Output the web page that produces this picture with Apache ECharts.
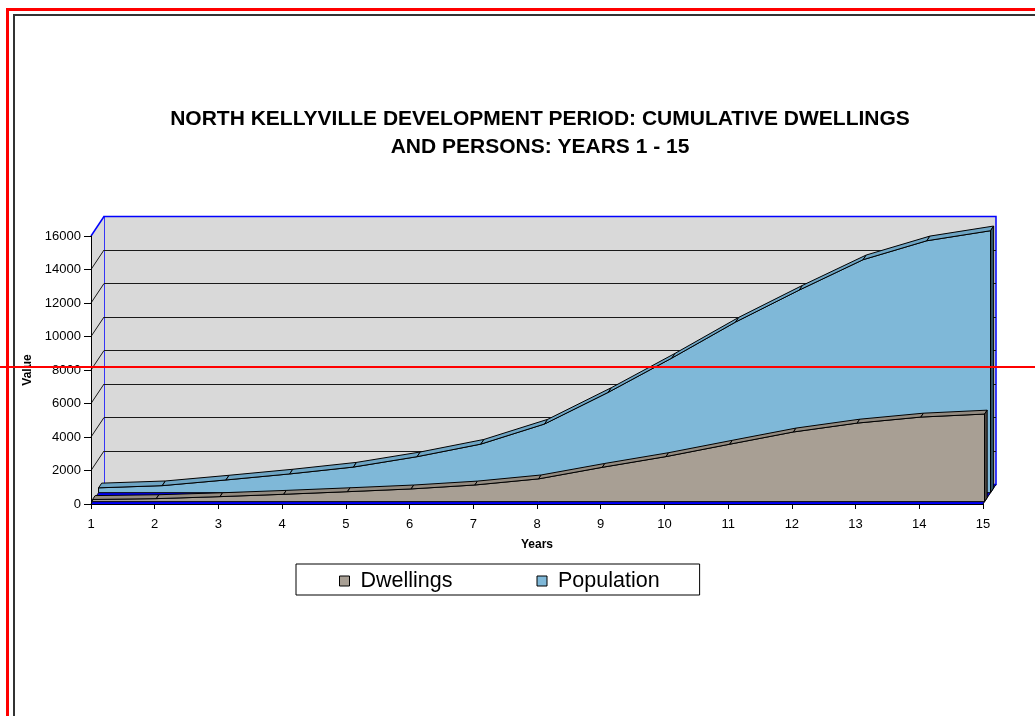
<!DOCTYPE html>
<html>
<head>
<meta charset="utf-8">
<title>North Kellyville Development Period</title>
<script src="https://cdn.jsdelivr.net/npm/echarts@6/dist/echarts.min.js"></script>
<style>
  html, body { margin: 0; padding: 0; background: #ffffff; }
  #chart { width: 1035px; height: 716px; }
</style>
</head>
<body>
<div id="chart"></div>
<script>
// Years along the category axis
const years = ['1', '2', '3', '4', '5', '6', '7', '8', '9', '10', '11', '12', '13', '14', '15'];
// Cumulative dwellings by year
const dwellings = [130, 180, 300, 440, 595, 760, 995, 1360, 2050, 2690, 3430, 4160, 4690, 5050, 5230];
// Cumulative persons by year
const population = [290, 420, 760, 1120, 1530, 2150, 2900, 4100, 5990, 8040, 10190, 12100, 13910, 15040, 15640];
// Value axis ticks
const valueTicks = [0, 2000, 4000, 6000, 8000, 10000, 12000, 14000, 16000];

const Y_MAX = 16000;
// Oblique depth vector (pixels) from the front plane to the back wall
const DEPTH = [13, -19.5];
const FONT = "'Liberation Sans', Arial, sans-serif";

function shift(p, f) {
  return [p[0] + DEPTH[0] * f, p[1] + DEPTH[1] * f];
}

// 3D area: front face, top ribbon segments and the visible right side
function areaRenderer(f0, f1, faceColor, topColor, sideColor) {
  return function (params, api) {
    const i = params.dataIndex;
    const n = params.dataInsideLength;
    const children = [];
    if (i === 0) {
      const pts = [];
      for (let k = 0; k < n; k++) pts.push(shift(api.coord([k, api.value(1, k)]), f0));
      pts.push(shift(api.coord([n - 1, 0]), f0));
      pts.push(shift(api.coord([0, 0]), f0));
      children.push({
        type: 'polygon', shape: { points: pts },
        style: { fill: faceColor, stroke: '#000', lineWidth: 1 }
      });
    }
    const a = api.coord([i, api.value(1, i)]);
    if (i < n - 1) {
      const b = api.coord([i + 1, api.value(1, i + 1)]);
      children.push({
        type: 'polygon',
        shape: { points: [shift(a, f0), shift(b, f0), shift(b, f1), shift(a, f1)] },
        style: { fill: topColor, stroke: '#000', lineWidth: 1, lineJoin: 'round' }
      });
    } else {
      const z = api.coord([i, 0]);
      children.push({
        type: 'polygon',
        shape: { points: [shift(a, f0), shift(a, f1), shift(z, f1), shift(z, f0)] },
        style: { fill: sideColor, stroke: '#000', lineWidth: 1 }
      });
    }
    return { type: 'group', children: children };
  };
}

// Left side wall and blue floor
function frameRenderer(params, api) {
  const n = years.length;
  const fl = api.coord([0, 0]);
  const fr = api.coord([n - 1, 0]);
  const tl = api.coord([0, Y_MAX]);
  return {
    type: 'group',
    children: [
      {
        type: 'polygon',
        shape: { points: [fl, tl, shift(tl, 1), shift(fl, 1)] },
        style: { fill: '#d9d9d9' }
      },
      {
        type: 'polygon',
        shape: { points: [fl, fr, shift(fr, 1), shift(fl, 1)] },
        style: { fill: '#0000ff' }
      },
      {
        type: 'line',
        shape: { x1: fr[0], y1: fr[1], x2: fr[0] + DEPTH[0], y2: fr[1] + DEPTH[1] },
        style: { stroke: '#000', lineWidth: 1 }
      }
    ]
  };
}

// Gridline returns on the left wall, one per value tick
function wallLineRenderer(params, api) {
  const v = api.value(0);
  const p = api.coord([0, v]);
  return {
    type: 'line',
    shape: { x1: p[0], y1: p[1], x2: p[0] + DEPTH[0], y2: p[1] + DEPTH[1] },
    style: { stroke: v === Y_MAX ? '#0000ff' : '#1a1a1a', lineWidth: v === Y_MAX ? 1.5 : 1 }
  };
}

const chart = echarts.init(document.getElementById('chart'), null, { renderer: 'canvas' });

chart.setOption({
  animation: false,
  backgroundColor: '#ffffff',
  title: {
    text: 'NORTH KELLYVILLE DEVELOPMENT PERIOD: CUMULATIVE DWELLINGS\nAND PERSONS: YEARS 1 - 15',
    left: 535,
    top: 100,
    textAlign: 'center',
    textStyle: { fontFamily: FONT, fontSize: 21, fontWeight: 'bold', color: '#000', lineHeight: 28 }
  },
  legend: {
    data: ['Dwellings', 'Population'],
    left: 296,
    top: 564,
    orient: 'horizontal',
    padding: [6, 40, 3, 43],
    itemGap: 84,
    itemWidth: 10,
    itemHeight: 10,
    icon: 'rect',
    borderColor: '#000',
    borderWidth: 1,
    backgroundColor: '#fff',
    itemStyle: { borderColor: '#000', borderWidth: 1 },
    textStyle: { fontFamily: FONT, fontSize: 21.5, color: '#000', padding: [0, 0, 0, 6] }
  },
  grid: [
    { left: 91, top: 236, width: 892, height: 268, containLabel: false },
    {
      left: 104, top: 216.5, width: 892, height: 268, containLabel: false,
      show: true, backgroundColor: '#d9d9d9', borderColor: '#0000ff', borderWidth: 1.5
    }
  ],
  xAxis: [
    {
      type: 'category', gridIndex: 0, data: years, boundaryGap: false, z: 5,
      name: 'Years', nameLocation: 'middle', nameGap: 35,
      nameTextStyle: { fontFamily: FONT, fontSize: 12, fontWeight: 'bold', color: '#000' },
      axisLine: { lineStyle: { color: '#000', width: 1 } },
      axisTick: { show: true, length: 5, alignWithLabel: true, lineStyle: { color: '#000' } },
      axisLabel: { fontFamily: FONT, fontSize: 13, color: '#000', margin: 14, interval: 0 },
      splitLine: { show: false }
    },
    {
      type: 'category', gridIndex: 1, data: years, boundaryGap: false, show: false
    }
  ],
  yAxis: [
    {
      type: 'value', gridIndex: 0, min: 0, max: Y_MAX, interval: 2000, z: 5,
      name: 'Value', nameLocation: 'middle', nameRotate: 90, nameGap: 56,
      nameTextStyle: { fontFamily: FONT, fontSize: 12, fontWeight: 'bold', color: '#000' },
      axisLine: { show: true, lineStyle: { color: '#000', width: 1 } },
      axisTick: { show: true, length: 7, lineStyle: { color: '#000' } },
      axisLabel: { fontFamily: FONT, fontSize: 13, color: '#000', margin: 10, formatter: v => String(v) },
      splitLine: { show: false }
    },
    {
      type: 'value', gridIndex: 1, min: 0, max: Y_MAX, interval: 2000,
      axisLine: { show: false }, axisTick: { show: false }, axisLabel: { show: false },
      splitLine: { show: true, showMinLine: false, showMaxLine: false, lineStyle: { color: '#1a1a1a', width: 1 } }
    }
  ],
  series: [
    {
      type: 'custom', name: 'frame', xAxisIndex: 0, yAxisIndex: 0, clip: false, silent: true, z: 1,
      data: [[0]], renderItem: frameRenderer
    },
    {
      type: 'custom', name: 'wallLines', xAxisIndex: 0, yAxisIndex: 0, clip: false, silent: true, z: 1,
      data: valueTicks.map(v => [v]), renderItem: wallLineRenderer
    },
    {
      type: 'custom', name: 'Population', xAxisIndex: 0, yAxisIndex: 0, clip: false, z: 2,
      itemStyle: { color: '#7fb8d8' },
      encode: { x: 0, y: 1 },
      data: population.map((v, i) => [i, v]),
      renderItem: areaRenderer(0.58, 0.82, '#7fb8d8', '#6ea5c4', '#34566a')
    },
    {
      type: 'custom', name: 'Dwellings', xAxisIndex: 0, yAxisIndex: 0, clip: false, z: 3,
      itemStyle: { color: '#a89f94' },
      encode: { x: 0, y: 1 },
      data: dwellings.map((v, i) => [i, v]),
      renderItem: areaRenderer(0.12, 0.32, '#a89f94', '#938b81', '#4f4a45')
    }
  ],
  graphic: [
    // dark inner page frame
    { type: 'line', z: 100, shape: { x1: 14, y1: 15, x2: 14, y2: 716 }, style: { stroke: '#333', lineWidth: 2 } },
    { type: 'line', z: 100, shape: { x1: 13, y1: 15, x2: 1035, y2: 15 }, style: { stroke: '#333', lineWidth: 2 } },
    // red outer frame
    { type: 'line', z: 101, shape: { x1: 7.5, y1: 8, x2: 7.5, y2: 716 }, style: { stroke: '#ff0000', lineWidth: 3 } },
    { type: 'line', z: 101, shape: { x1: 6, y1: 9.5, x2: 1035, y2: 9.5 }, style: { stroke: '#ff0000', lineWidth: 3 } },
    // red horizontal marker
    { type: 'line', z: 101, shape: { x1: 0, y1: 367, x2: 1035, y2: 367 }, style: { stroke: '#ff0000', lineWidth: 2 } }
  ]
});
</script>
</body>
</html>
